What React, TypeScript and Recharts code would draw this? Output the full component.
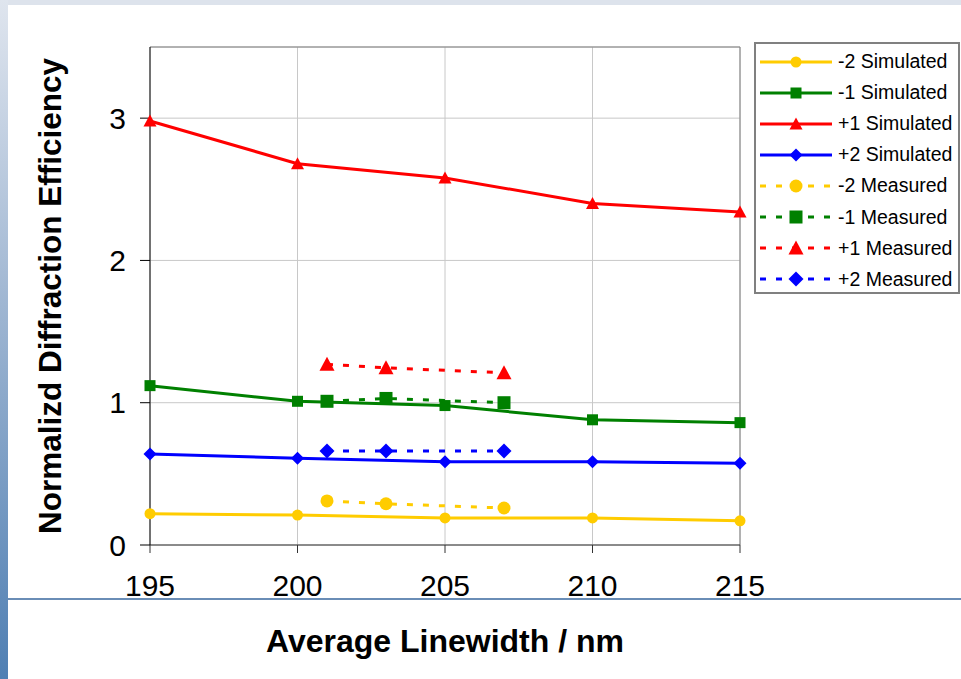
import React from "react";
import {
  LineChart,
  Line,
  XAxis,
  YAxis,
  CartesianGrid,
  Label,
  ReferenceLine,
} from "recharts";

const simX = [195, 200, 205, 210, 215];
const measX = [201, 203, 207];

const minus2Sim = [0.22, 0.21, 0.19, 0.19, 0.17];
const minus1Sim = [1.12, 1.01, 0.98, 0.88, 0.86];
const plus1Sim = [2.98, 2.68, 2.58, 2.4, 2.34];
const plus2Sim = [0.64, 0.61, 0.585, 0.585, 0.575];

const minus2Meas = [0.31, 0.29, 0.26];
const minus1Meas = [1.01, 1.03, 1.0];
const plus1Meas = [1.27, 1.245, 1.21];
const plus2Meas = [0.66, 0.66, 0.66];

const xTicks = [195, 200, 205, 210, 215];
const yTicks = [0, 1, 2, 3];

type Shape = "circle" | "square" | "triangle" | "diamond";

const FONT = "'Liberation Sans', Arial, sans-serif";

const toRows = (xs: number[], ys: number[]) => xs.map((x, i) => ({ x, y: ys[i] }));

const series = [
  { name: "-2 Simulated", data: toRows(simX, minus2Sim), color: "#ffcc00", shape: "circle" as Shape, dashed: false },
  { name: "-1 Simulated", data: toRows(simX, minus1Sim), color: "#008000", shape: "square" as Shape, dashed: false },
  { name: "+1 Simulated", data: toRows(simX, plus1Sim), color: "#ff0000", shape: "triangle" as Shape, dashed: false },
  { name: "+2 Simulated", data: toRows(simX, plus2Sim), color: "#0000ff", shape: "diamond" as Shape, dashed: false },
  { name: "-2 Measured", data: toRows(measX, minus2Meas), color: "#ffcc00", shape: "circle" as Shape, dashed: true },
  { name: "-1 Measured", data: toRows(measX, minus1Meas), color: "#008000", shape: "square" as Shape, dashed: true },
  { name: "+1 Measured", data: toRows(measX, plus1Meas), color: "#ff0000", shape: "triangle" as Shape, dashed: true },
  { name: "+2 Measured", data: toRows(measX, plus2Meas), color: "#0000ff", shape: "diamond" as Shape, dashed: true },
];

function Marker({ shape, cx, cy, size, color }: { shape: Shape; cx: number; cy: number; size: number; color: string }) {
  const h = size / 2;
  if (shape === "circle") return <circle cx={cx} cy={cy} r={h} fill={color} />;
  if (shape === "square") return <rect x={cx - h} y={cy - h} width={size} height={size} fill={color} />;
  if (shape === "triangle")
    return <polygon points={`${cx},${cy - h - 1} ${cx + h + 1},${cy + h} ${cx - h - 1},${cy + h}`} fill={color} />;
  return <polygon points={`${cx},${cy - h - 1} ${cx + h + 1},${cy} ${cx},${cy + h + 1} ${cx - h - 1},${cy}`} fill={color} />;
}

const dotFor = (shape: Shape, color: string, size: number) => (props: any) => {
  const { cx, cy, index } = props;
  if (cx == null || cy == null) return <g key={`e-${index}`} />;
  return <Marker key={`m-${index}`} shape={shape} cx={cx} cy={cy} size={size} color={color} />;
};

const LegendBox = () => (
  <div
    style={{
      position: "absolute",
      left: 754,
      top: 42,
      width: 202,
      height: 246,
      border: "2px solid #808080",
      background: "#fff",
      paddingTop: 2,
    }}
  >
    {series.map((s) => (
      <div key={s.name} style={{ display: "flex", alignItems: "center", height: 31.1 }}>
        <svg width={82} height={20} style={{ flexShrink: 0 }}>
          <line
            x1={4}
            y1={10}
            x2={76}
            y2={10}
            stroke={s.color}
            strokeWidth={3}
            strokeDasharray={s.dashed ? "6 10" : undefined}
          />
          <Marker shape={s.shape} cx={40} cy={10} size={s.dashed ? 13 : 11} color={s.color} />
        </svg>
        <span style={{ fontFamily: FONT, fontSize: 19.5, color: "#000", whiteSpace: "nowrap" }}>{s.name}</span>
      </div>
    ))}
  </div>
);

export default function App() {
  return (
    <div style={{ position: "absolute", left: 0, top: 0, width: 961, height: 679, background: "#fff", overflow: "hidden" }}>
      <div style={{ position: "absolute", left: 0, top: 0, width: 961, height: 5, background: "#dde3ec" }} />
      <div
        style={{
          position: "absolute",
          left: 0,
          top: 0,
          width: 8,
          height: 679,
          background: "linear-gradient(to bottom, #dfe5ee, #9fb6d2 45%, #4f7fb3)",
        }}
      />
      <div style={{ position: "absolute", left: 8, top: 598, width: 953, height: 2, background: "#6a8db6" }} />
      <div style={{ position: "absolute", left: 0, top: 0 }}>
        <LineChart width={961} height={679} margin={{ top: 47, right: 221, bottom: 0, left: 50 }}>
          <CartesianGrid stroke="#c8c8c8" strokeWidth={1} />
          <XAxis
            dataKey="x"
            type="number"
            domain={[195, 215]}
            ticks={xTicks}
            allowDuplicatedCategory={false}
            height={134}
            stroke="#333"
            tickSize={8}
            tickMargin={22}
            tick={{ fill: "#000", fontSize: 30, fontFamily: FONT }}
          >
            <Label
              value="Average Linewidth / nm"
              position="insideBottom"
              offset={27}
              style={{ fontSize: 32, fontWeight: "bold", fontFamily: FONT, fill: "#000" }}
            />
          </XAxis>
          <YAxis
            type="number"
            domain={[0, 3.5]}
            ticks={yTicks}
            width={100}
            stroke="#000"
            tickSize={10}
            tickMargin={14}
            tick={{ fill: "#000", fontSize: 30, fontFamily: FONT }}
          >
            <Label
              content={({ viewBox }: any) => {
                const cx = 50;
                const cy = viewBox.y + viewBox.height / 2;
                return (
                  <text
                    x={cx}
                    y={cy}
                    transform={`rotate(-90, ${cx}, ${cy})`}
                    textAnchor="middle"
                    dominantBaseline="central"
                    style={{ fontSize: 31.5, fontWeight: "bold", fontFamily: FONT, fill: "#000" }}
                  >
                    Normalizd Diffraction Efficiency
                  </text>
                );
              }}
            />
          </YAxis>
          <ReferenceLine y={3.5} stroke="#808080" />
          <ReferenceLine x={215} stroke="#808080" />
          {series.map((s) => (
            <Line
              key={s.name}
              data={s.data}
              dataKey="y"
              name={s.name}
              type="linear"
              stroke={s.color}
              strokeWidth={3}
              strokeDasharray={s.dashed ? "6 10" : undefined}
              dot={dotFor(s.shape, s.color, s.dashed ? 13 : 11)}
              activeDot={false}
              isAnimationActive={false}
            />
          ))}
        </LineChart>
      </div>
      <LegendBox />
    </div>
  );
}
